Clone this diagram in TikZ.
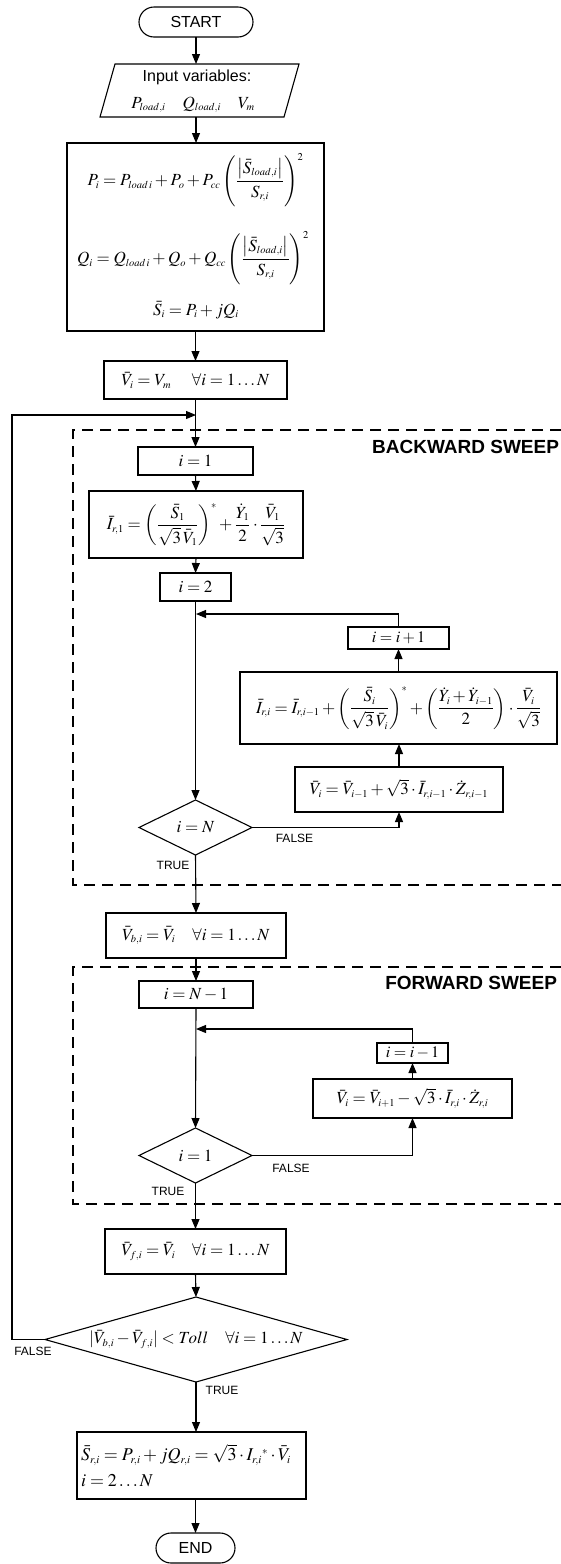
\documentclass[tikz,border=0pt]{standalone}
\usepackage{mathptmx}
\usepackage[no-math]{fontspec}
\setmainfont{Liberation Sans}
\usetikzlibrary{arrows.meta,shapes.geometric,calc}
\DeclareMathSizes{18}{18}{11}{8.5}
\DeclareMathSizes{17}{17}{10.5}{8}
\DeclareMathSizes{16}{16}{10}{7.5}
\newcommand{\mfs}{\fontsize{17}{21}\selectfont}
\newcommand{\bfs}{\fontsize{18}{22}\selectfont}
\newcommand{\sfs}{\fontsize{16}{19}\selectfont}
\newcommand{\tfs}{\fontsize{12}{14}\selectfont}
\begin{document}
\begin{tikzpicture}[x=1pt,y=-1pt,
  every node/.style={inner sep=0pt, outer sep=0pt},
  proc/.style={draw, line width=1.1pt, align=center, font=\mfs},
  term/.style={draw, line width=1.1pt, rounded corners=15pt, font=\sfs},
  dec/.style={draw, diamond, line width=1.1pt, font=\mfs},
  lbl/.style={font=\tfs},
  flow/.style={line width=1.1pt, -{Triangle[length=10pt,width=8pt]}},
  plain/.style={line width=1.1pt},
  sweep/.style={line width=1.1pt, dash pattern=on 11pt off 7pt},
  sweeptitle/.style={font=\fontsize{19}{22}\selectfont\bfseries, anchor=east}]
\useasboundingbox (0,0) rectangle (561,1564);

% start and input
\node[term, minimum width=114pt, minimum height=30pt] (start) at (196,22) {START};
\node[minimum width=184pt, minimum height=53pt] (input) at (199.5,90.5) {};
\draw[plain] ($(input.north west)+(7.5,0)$) -- ($(input.north east)+(7.5,0)$) -- ($(input.south east)+(-7.5,0)$) -- ($(input.south west)+(-7.5,0)$) -- cycle;
\node[font=\sfs] (inlab) at (197,77) {Input variables:};
\node[font=\mfs] (invars) at (193,105) {$P_{load,i}\quad Q_{load,i}\quad V_m$};

% power calculation box
\node[proc, minimum width=257pt, minimum height=188pt] (calc) at (195.5,237) {};
\node[font=\mfs] (peq) at (195.5,180) {$\displaystyle P_i = P_{load\,i} + P_o + P_{cc}\left(\frac{\left|\bar S_{load,i}\right|}{S_{r,i}}\right)^{2}$};
\node[font=\mfs] (qeq) at (193,258) {$\displaystyle Q_i = Q_{load\,i} + Q_o + Q_{cc}\left(\frac{\left|\bar S_{load,i}\right|}{S_{r,i}}\right)^{2}$};
\node[font=\mfs] (seq) at (196,310) {$\bar S_i = P_i + jQ_i$};

\node[proc, minimum width=183pt, minimum height=38pt] (vinit) at (195.5,380) {$\bar V_i = V_m \quad\; \forall i = 1\ldots N$};
\coordinate (fbin) at (196,415);

% backward sweep
\draw[sweep] (561,430) -- (73,430) -- (73,885) -- (561,885);
\node[sweeptitle] (bwtitle) at (559,447) {BACKWARD SWEEP};
\node[proc, minimum width=115pt, minimum height=28pt] (i1) at (195.5,461) {$i = 1$};
\node[proc, minimum width=214pt, minimum height=67pt] (ir1) at (196,524.5) {$\displaystyle \bar I_{r,1} = \left(\frac{\bar S_1}{\sqrt{3}\,\bar V_1}\right)^{*} + \frac{\dot Y_1}{2}\cdot\frac{\bar V_1}{\sqrt{3}}$};
\node[proc, minimum width=71pt, minimum height=28pt] (i2) at (195.5,587) {$i = 2$};
\coordinate (j1) at (196,614);
\node[proc, font=\sfs, minimum width=101pt, minimum height=22pt] (ipp) at (398.5,638) {$i = i + 1$};
\node[proc, minimum width=317pt, minimum height=72pt] (iri) at (398.5,708) {$\displaystyle \bar I_{r,i} = \bar I_{r,i-1} + \left(\frac{\bar S_i}{\sqrt{3}\,\bar V_i}\right)^{*} + \left(\frac{\dot Y_i + \dot Y_{i-1}}{2}\right)\cdot\frac{\bar V_i}{\sqrt{3}}$};
\node[proc, minimum width=208pt, minimum height=45pt] (vib) at (399,789.5) {$\bar V_i = \bar V_{i-1} + \sqrt{3}\cdot \bar I_{r,i-1}\cdot \dot Z_{r,i-1}$};
\node[dec, minimum width=113pt, minimum height=55pt] (dN) at (195.5,827.5) {$i = N$};
\node[lbl] (fN) at (294.5,838) {FALSE};
\node[lbl] (tN) at (173,865) {TRUE};

\node[proc, minimum width=180pt, minimum height=45pt] (vb) at (196,935.5) {$\bar V_{b,i} = \bar V_i \quad \forall i = 1\ldots N$};

% forward sweep
\draw[sweep] (561,967) -- (73,967) -- (73,1204) -- (561,1204);
\node[sweeptitle] (fwtitle) at (557,983) {FORWARD SWEEP};
\node[proc, minimum width=114pt, minimum height=27pt] (inm) at (196,994.5) {$i = N - 1$};
\coordinate (j2) at (196,1029);
\node[proc, font=\sfs, minimum width=71pt, minimum height=20pt] (imm) at (412.5,1053) {$i = i - 1$};
\node[proc, minimum width=199pt, minimum height=39pt] (vif) at (412.5,1098.5) {$\bar V_i = \bar V_{i+1} - \sqrt{3}\cdot \bar I_{r,i}\cdot \dot Z_{r,i}$};
\node[dec, minimum width=113pt, minimum height=55pt] (d1) at (195.5,1155.5) {$i = 1$};
\node[lbl] (f1) at (291,1168) {FALSE};
\node[lbl] (t1) at (168,1191) {TRUE};

\node[proc, minimum width=181pt, minimum height=45pt] (vf) at (195.5,1251.5) {$\bar V_{f,i} = \bar V_i \quad \forall i = 1\ldots N$};
\node[dec, shape aspect=3.55, minimum width=302pt, minimum height=85pt] (big) at (196,1339.5) {$\left|\bar V_{b,i} - \bar V_{f,i}\right| < Toll \quad \forall i = 1\ldots N$};
\node[lbl] (fb) at (33,1351) {FALSE};
\node[lbl] (tb) at (222,1390) {TRUE};
\coordinate (fbcorner) at (12,1339.5);

\node[proc, font=\bfs, align=left, text width=221pt, inner xsep=4pt, minimum height=67pt] (fin) at (191.5,1465.5) {$\bar S_{r,i} = P_{r,i} + jQ_{r,i} = \sqrt{3}\cdot I_{r,i}{}^{*}\cdot \bar V_i$\\[4pt] $i = 2\ldots N$};
\node[term, minimum width=79pt, minimum height=30pt] (end) at (195.5,1548) {END};

% connectors
\draw[flow] (start.south) -- (start.south |- input.north);
\draw[flow] (start.south |- input.south) -- (start.south |- calc.north);
\draw[flow] (calc.south) -- (vinit.north);
\draw[flow] (vinit.south) -- (i1.north);
\draw[flow] (big.west) -- (fbcorner) |- (fbin);
\draw[flow] (i1.south) -- (ir1.north);
\draw[flow] (ir1.south) -- (i2.north);
\draw[flow] (i2.south) -- (dN.north);
\draw[flow] (dN.east) -| (vib.south);
\draw[flow] (vib.north) -- (vib.north |- iri.south);
\draw[flow] (iri.north) -- (ipp.south);
\draw[flow] (ipp.north) |- (j1);
\draw[flow] (dN.south) -- (vb.north);
\draw[flow] (vb.south) -- (inm.north);
\draw[flow] (inm.south) -- (d1.north);
\draw[flow] (d1.east) -| (vif.south);
\draw[flow] (vif.north) -- (imm.south);
\draw[flow] (imm.north) |- (j2);
\draw[flow] (d1.south) -- (vf.north);
\draw[flow] (vf.south) -- (big.north);
\draw[flow] (big.south) -- (big.south |- fin.north);
\draw[flow] (end.north |- fin.south) -- (end.north);
\end{tikzpicture}
\end{document}
